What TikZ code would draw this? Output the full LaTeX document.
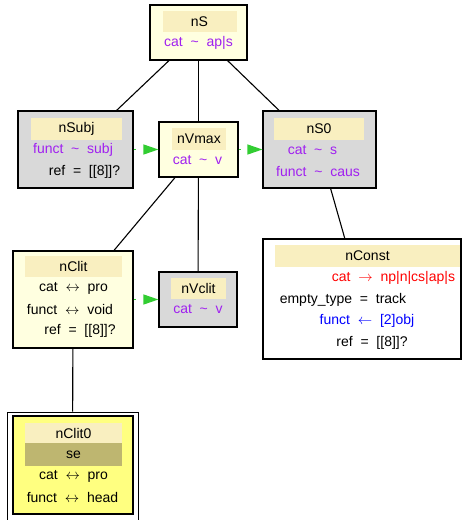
\documentclass[tikz,border=0pt]{standalone}
\usepackage{fontspec}
\setmainfont{Liberation Sans}
\usepackage{xcolor}
\usetikzlibrary{arrows.meta}

\definecolor{nodeyellow}{RGB}{255,255,224}
\definecolor{hdrbg}{RGB}{249,239,192}
\definecolor{nodegray}{RGB}{217,217,217}
\definecolor{featpurple}{RGB}{160,32,240}
\definecolor{clitfill}{RGB}{255,255,128}
\definecolor{sebg}{RGB}{190,182,112}
\definecolor{arrowgreen}{RGB}{50,205,50}

\newcommand{\gap}{\hspace{0.556em}}
\newcommand{\tld}{\gap\textasciitilde\gap}

\begin{document}
\begin{tikzpicture}[x=1pt, y=-1pt,
    every node/.style={font=\fontsize{14}{16}\selectfont, inner sep=0pt},
    box/.style={draw=black, line width=1.2pt, rectangle},
    hdr/.style={fill=hdrbg, minimum height=21pt},
    feat/.style={text=featpurple},
    link/.style={draw=black, line width=1.1pt},
    flow/.style={draw=arrowgreen, line width=1.2pt, dash pattern=on 2pt off 30pt,
      -{Triangle[length=15pt, width=10pt]}}]
    \useasboundingbox (0,0) rectangle (463,520);

    % Top node
    \node[box, fill=nodeyellow, minimum width=97pt, minimum height=55pt] (nS) at (198.5,32.5) {};
    \node[hdr, minimum width=74pt] (nSh) at (199.5,21.5) {nS};
    \node[feat] (nSr1) at (198.5,43) {cat\tld ap|s};

    % Subject
    \node[box, fill=nodegray, minimum width=115pt, minimum height=77pt] (nSubj) at (75.5,149.5) {};
    \node[hdr, minimum width=91pt, minimum height=22pt] (nSubjh) at (76.5,129) {nSubj};
    \node[feat] (nSubjr1) at (73,150) {funct\tld subj};
    \node (nSubjr2) at (84.5,171.5) {ref\gap=\gap[[8]]?};

    % Verb max
    \node[box, fill=nodeyellow, minimum width=79pt, minimum height=55pt] (nVmax) at (198.5,149.5) {};
    \node[hdr, minimum width=54pt, minimum height=22pt] (nVmaxh) at (199,139) {nVmax};
    \node[feat] (nVmaxr1) at (197.5,160.5) {cat\tld v};

    % S0
    \node[box, fill=nodegray, minimum width=113pt, minimum height=77pt] (nS0) at (319.5,149.5) {};
    \node[hdr, minimum width=90pt, minimum height=22pt] (nS0h) at (319,129) {nS0};
    \node[feat] (nS0r1) at (312.5,150) {cat\tld s};
    \node[feat] (nS0r2) at (318,171.5) {funct\tld caus};

    % Constituent
    \node[box, fill=white, minimum width=198pt, minimum height=120pt] (nConst) at (362,299) {};
    \node[hdr, minimum width=185pt, minimum height=22pt] (nConsth) at (367.5,256) {nConst};
    \node[text=red] (nConstr1) at (393.5,278) {cat\gap$\rightarrow$\gap np|n|cs|ap|s};
    \node (nConstr2) at (343,299.5) {empty\_type\gap=\gap track};
    \node[text=blue] (nConstr3) at (367,321) {funct\gap$\leftarrow$\gap[2]obj};
    \node (nConstr4) at (372,342.5) {ref\gap=\gap[[8]]?};

    % Clitic
    \node[box, fill=nodeyellow, minimum width=120pt, minimum height=97pt] (nClit) at (73,299.5) {};
    \node[hdr, minimum width=97pt] (nClith) at (73.5,266.5) {nClit};
    \node (nClitr1) at (73.5,288) {cat\gap$\leftrightarrow$\gap pro};
    \node (nClitr2) at (70,309.5) {funct\gap$\leftrightarrow$\gap void};
    \node (nClitr3) at (80,331) {ref\gap=\gap[[8]]?};

    % Verb clitic
    \node[box, fill=nodegray, minimum width=78pt, minimum height=55pt] (nVclit) at (198,299.5) {};
    \node[hdr, minimum width=55pt] (nVclith) at (198.5,288.5) {nVclit};
    \node[feat] (nVclitr1) at (198,309.5) {cat\tld v};

    % Clitic leaf (double frame)
    \node[draw=black, line width=0.8pt, fill=white, minimum width=131pt, minimum height=112pt] (nClit0) at (72.5,468) {};
    \node[box, fill=clitfill, minimum width=120pt, minimum height=98pt] (nClit0in) at (73,465) {};
    \node[hdr, minimum width=97pt, minimum height=20pt] (nClit0h) at (73.5,433) {nClit0};
    \node[fill=sebg, minimum width=97pt, minimum height=23pt] (nClit0se) at (73.5,454.5) {se};
    \node (nClit0r1) at (73.5,476.5) {cat\gap$\leftrightarrow$\gap pro};
    \node (nClit0r2) at (72.5,497.5) {funct\gap$\leftrightarrow$\gap head};

    % Tree links
    \draw[link] (nS) -- (nSubj);
    \draw[link] (nS) -- (nVmax);
    \draw[link] (nS) -- (nS0);
    \draw[link] (nVmax) -- (nClit);
    \draw[link] (nVmax) -- (nVclit);
    \draw[link] (nS0) -- (nConst);
    \draw[link] (nClit) -- (nClit0);

    % Green arrows
    \draw[flow] (nSubj) -- (nVmax);
    \draw[flow] (nVmax) -- (nS0);
    \draw[flow] (nClit) -- (nVclit);
\end{tikzpicture}
\end{document}
